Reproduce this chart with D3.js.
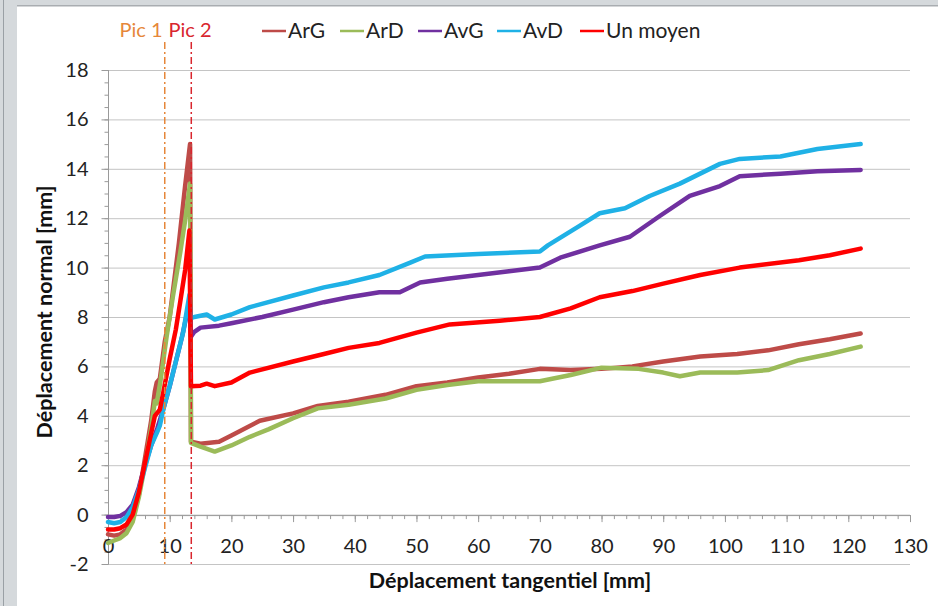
<!DOCTYPE html>
<html>
<head>
<meta charset="utf-8">
<script src="https://cdn.jsdelivr.net/npm/d3@7"></script>
<style>
  html, body { margin: 0; padding: 0; background: #d5d9dc; }
  svg { display: block; font-family: Lato, "Open Sans", sans-serif; }
</style>
</head>
<body>
<svg id="chart" width="938" height="606"></svg>
<script>
// values: [x mm, y mm]
const argPts = [[0, -0.8], [1, -0.85], [2, -0.8], [3, -0.6], [4, -0.1], [5, 0.8], [6, 2.3], [7, 3.8], [7.6, 5.0], [7.9, 5.35], [8.4, 5.5], [9.2, 7.0], [10, 8.0], [10.5, 9.0], [11.5, 11.0], [12.5, 13.3], [13.3, 15.0], [13.45, 2.95],
  [15, 2.87], [18, 2.95], [20, 3.2], [24.6, 3.8], [30, 4.1], [34, 4.4], [39, 4.57], [45, 4.85], [50, 5.2], [55, 5.35], [60, 5.55], [65, 5.7], [70, 5.9], [75, 5.85], [80, 5.9], [85, 6.0], [90, 6.2], [96, 6.4], [102, 6.5], [107, 6.65], [112, 6.9], [117, 7.1], [122, 7.33]];
const ardPts = [[0, -1.15], [1, -1.05], [2, -0.95], [3, -0.75], [4, -0.3], [5, 0.7], [6, 2.0], [7, 3.5], [7.6, 4.6], [7.9, 4.5], [8.5, 5.4], [9.5, 7.2], [10.5, 8.8], [11.7, 10.6], [12.5, 11.9], [13.3, 13.4], [13.45, 2.9],
  [15, 2.75], [17.3, 2.55], [20, 2.8], [23, 3.15], [26, 3.45], [30, 3.9], [34, 4.3], [39, 4.45], [45, 4.7], [50, 5.05], [55, 5.25], [60, 5.4], [65, 5.4], [70, 5.4], [75, 5.65], [80, 5.95], [86, 5.9], [90, 5.75], [92.7, 5.6], [96, 5.75], [102, 5.75], [107, 5.85], [112, 6.25], [117, 6.5], [122, 6.8]];
const avgPts = [[0, -0.1], [1, -0.1], [2, -0.05], [3, 0.1], [4, 0.4], [5, 1.1], [6, 2.0], [7, 2.8], [8, 3.5], [9, 4.3], [10, 5.2], [11, 6.2], [12, 7.2], [13.2, 8.6], [13.45, 7.2],
  [14, 7.4], [15, 7.57], [18, 7.65], [20, 7.75], [25, 8.0], [30, 8.3], [35, 8.6], [39, 8.8], [44, 9.0], [47.3, 9.0], [50.6, 9.4], [55, 9.55], [60, 9.7], [65, 9.85], [70, 10.0], [73.3, 10.4], [79.7, 10.9], [84.6, 11.25], [89.5, 12.1], [94.3, 12.9], [99.2, 13.3], [102.4, 13.7], [109, 13.8], [115, 13.9], [122, 13.95]];
const avdPts = [[0, -0.3], [1, -0.35], [2, -0.3], [3, -0.1], [4, 0.3], [5, 1.0], [6, 1.9], [7, 2.8], [7.9, 3.3], [8.4, 3.6], [9, 4.3], [10, 5.2], [11, 6.2], [12.2, 7.4], [13.2, 8.9], [13.45, 7.95],
  [14, 8.0], [15, 8.05], [16, 8.1], [17.3, 7.9], [20, 8.1], [23, 8.4], [30, 8.87], [35, 9.2], [39, 9.4], [44, 9.7], [49, 10.2], [51.4, 10.45], [60, 10.55], [70, 10.65], [71.3, 10.9], [76.5, 11.7], [79.7, 12.2], [83.8, 12.4], [87.8, 12.9], [92.7, 13.4], [99.2, 14.2], [102.4, 14.4], [109, 14.5], [115, 14.8], [122, 15.0]];
const moyPts = [[0, -0.6], [1, -0.6], [2, -0.55], [3, -0.4], [4, 0.0], [5, 0.9], [6, 2.1], [7, 3.3], [7.6, 4.0], [8.4, 4.25], [9, 5.0], [10, 6.3], [11, 7.5], [11.7, 8.6], [12.5, 9.9], [13.2, 11.5], [13.45, 5.2],
  [15, 5.22], [16, 5.3], [17.3, 5.2], [20, 5.35], [23, 5.75], [30, 6.2], [35, 6.5], [39, 6.75], [44, 6.95], [50, 7.37], [55.4, 7.7], [63.5, 7.85], [70, 8.0], [75, 8.35], [79.7, 8.8], [85, 9.05], [90, 9.35], [96, 9.7], [102.4, 10.0], [112, 10.3], [117, 10.5], [122, 10.77]];

const seriesNames = ['ArG', 'ArD', 'AvG', 'AvD', 'Un moyen'];
const seriesColors = ['#be4b48', '#9bbb59', '#7030a0', '#1fb1e6', '#ff0000'];
const seriesPts = [argPts, ardPts, avgPts, avdPts, moyPts];

const picNames = ['Pic 1', 'Pic 2'];
const picX = [9.2, 13.5];
const picColors = ['#e6873a', '#d9262e'];

const xTicks = d3.range(0, 131, 10);
const yTicks = d3.range(-2, 19, 2);

const svg = d3.select('#chart');

// window frame
svg.append('rect').attr('x', 3).attr('y', 0).attr('width', 1).attr('height', 606).attr('fill', '#9aa0a5');
svg.append('rect').attr('x', 17).attr('y', 6).attr('width', 921).attr('height', 600).attr('fill', '#fff');
svg.append('rect').attr('x', 17).attr('y', 5).attr('width', 921).attr('height', 1.5).attr('fill', '#a9adb1');

const x = d3.scaleLinear().domain([0, 130]).range([108, 910]);
const y = d3.scaleLinear().domain([-2, 18]).range([564, 70]);

// gridlines
svg.append('g')
  .selectAll('line')
  .data(yTicks)
  .enter()
  .append('line')
  .attr('x1', x(0))
  .attr('x2', x(130))
  .attr('y1', d => y(d) + 0.5)
  .attr('y2', d => y(d) + 0.5)
  .attr('stroke', '#c4c4c4')
  .attr('stroke-width', 1);

// y axis, major and minor ticks
const yAxis = svg.append('g').attr('transform', `translate(${x(0) + 0.5},0)`);
yAxis.call(d3.axisLeft(y).tickValues(d3.range(-2, 18.01, 0.5)).tickSize(4).tickFormat(''));
yAxis.call(g => g.select('.domain').remove());
yAxis.selectAll('line').attr('stroke', '#9a9a9a');
svg.append('line')
  .attr('x1', x(0) + 0.5).attr('x2', x(0) + 0.5)
  .attr('y1', y(18)).attr('y2', y(-2))
  .attr('stroke', '#9a9a9a');
const yMajor = svg.append('g').attr('transform', `translate(${x(0) + 0.5},0)`)
  .call(d3.axisLeft(y).tickValues(yTicks).tickSize(7).tickPadding(13).tickFormat(d => String(d)));
yMajor.select('.domain').remove();
yMajor.selectAll('line').attr('stroke', '#9a9a9a');
yMajor.selectAll('text').attr('font-size', 20).attr('fill', '#222').attr('font-family', 'Lato, sans-serif');

// x axis on y = 0
const xAxis = svg.append('g').attr('transform', `translate(0,${y(0) + 0.5})`);
xAxis.call(d3.axisBottom(x).tickValues(d3.range(0, 130.01, 2)).tickSize(4).tickFormat(''));
xAxis.selectAll('line').attr('stroke', '#9a9a9a');
xAxis.select('.domain').attr('stroke', '#9a9a9a');
const xMajor = svg.append('g').attr('transform', `translate(0,${y(0) + 0.5})`)
  .call(d3.axisBottom(x).tickValues(xTicks).tickSize(7).tickPadding(17).tickFormat(d => String(d)));
xMajor.select('.domain').remove();
xMajor.selectAll('line').attr('stroke', '#9a9a9a');
xMajor.selectAll('text').attr('font-size', 20).attr('fill', '#222').attr('font-family', 'Lato, sans-serif');

// series
const line = d3.line().x(d => x(d[0])).y(d => y(d[1]));
seriesPts.forEach((pts, i) => {
  svg.append('path')
    .datum(pts)
    .attr('d', line)
    .attr('fill', 'none')
    .attr('stroke', seriesColors[i])
    .attr('stroke-width', 4.5)
    .attr('stroke-linejoin', 'round')
    .attr('stroke-linecap', 'round');
});

// peak markers
picX.forEach((px, i) => {
  svg.append('line')
    .attr('x1', x(px)).attr('x2', x(px))
    .attr('y1', 42).attr('y2', y(-2))
    .attr('stroke', picColors[i])
    .attr('stroke-width', 1.5)
    .attr('stroke-dasharray', '7,3,2,3');
});
svg.selectAll('.pic')
  .data(picNames)
  .enter()
  .append('text')
  .attr('class', 'pic')
  .attr('x', (d, i) => [141, 190][i])
  .attr('y', 37)
  .attr('text-anchor', 'middle')
  .attr('font-size', 20)
  .attr('fill', (d, i) => picColors[i])
  .text(d => d);

// legend
const legendX = [262, 340, 418, 497, 580];
seriesNames.forEach((name, i) => {
  svg.append('line')
    .attr('x1', legendX[i]).attr('x2', legendX[i] + 24)
    .attr('y1', 31).attr('y2', 31)
    .attr('stroke', seriesColors[i])
    .attr('stroke-width', 2.5);
  svg.append('text')
    .attr('x', legendX[i] + 26)
    .attr('y', 38)
    .attr('font-size', 21)
    .attr('fill', '#222')
    .text(name);
});

// axis titles
svg.append('text')
  .attr('x', 510)
  .attr('y', 588)
  .attr('text-anchor', 'middle')
  .attr('font-size', 21.5)
  .attr('font-weight', 'bold')
  .attr('fill', '#111')
  .text('Déplacement tangentiel [mm]');
svg.append('text')
  .attr('transform', 'translate(52,312) rotate(-90)')
  .attr('text-anchor', 'middle')
  .attr('font-size', 21.5)
  .attr('font-weight', 'bold')
  .attr('fill', '#111')
  .text('Déplacement normal [mm]');
</script>
</body>
</html>
